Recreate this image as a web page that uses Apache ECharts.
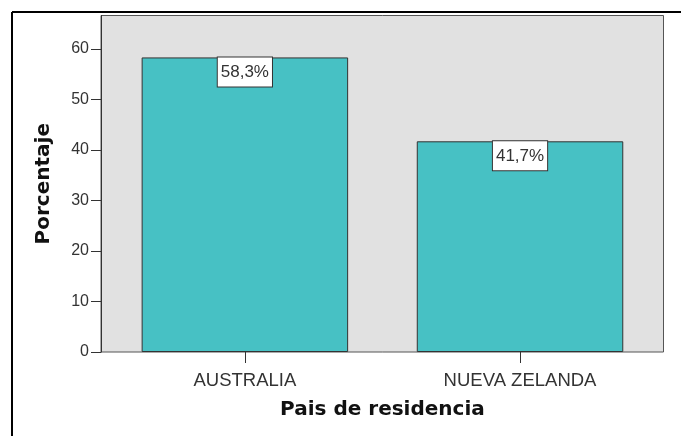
<!DOCTYPE html>
<html>
<head>
<meta charset="utf-8">
<script src="https://cdn.jsdelivr.net/npm/echarts@6/dist/echarts.min.js"></script>
<style>
html,body{margin:0;padding:0;background:#fff;}
#chart{width:681px;height:436px;}
</style>
</head>
<body>
<div id="chart"></div>
<script>
const categories = ['AUSTRALIA', 'NUEVA ZELANDA'];
const percentages = [58.3, 41.7];
const yTickValues = [0, 10, 20, 30, 40, 50, 60];
const xAxisTitle = 'Pais de residencia';
const yAxisTitle = 'Porcentaje';

const chart = echarts.init(document.getElementById('chart'), null, {renderer: 'canvas'});
const yMax = 66.6;
const option = {
  animation: false,
  backgroundColor: '#ffffff',
  graphic: [
    {type: 'line', shape: {x1: 12, y1: 12, x2: 681, y2: 12}, style: {stroke: '#000', lineWidth: 2}},
    {type: 'line', shape: {x1: 12, y1: 12, x2: 12, y2: 436}, style: {stroke: '#000', lineWidth: 2}}
  ],
  grid: [
    {left: 101, top: 15.5, width: 562.5, height: 336.5, show: true, backgroundColor: '#e1e1e1', borderColor: '#555', borderWidth: 1, z: 0},
    {left: 107.3, top: 15.5, width: 550.3, height: 336.5}
  ],
  xAxis: [
    {gridIndex: 0, type: 'value', show: false, min: 0, max: 1},
    {gridIndex: 1, type: 'category', data: categories, boundaryGap: true,
     axisLine: {show: false},
     axisTick: {show: true, alignWithLabel: true, length: 11, lineStyle: {color: '#333', width: 1}},
     axisLabel: {margin: 19, color: '#333', fontSize: 18.5, fontFamily: 'Liberation Sans, Arial, sans-serif'},
     name: xAxisTitle, nameLocation: 'middle', nameGap: 48,
     nameTextStyle: {fontSize: 20, fontWeight: 'bold', color: '#111', fontFamily: 'DejaVu Sans, sans-serif'}
    }
  ],
  yAxis: [
    {gridIndex: 0, type: 'value', min: 0, max: yMax, interval: 10,
     splitLine: {show: false},
     axisLine: {show: true, lineStyle: {color: '#333', width: 1}},
     axisTick: {show: true, length: 10, customValues: yTickValues, lineStyle: {color: '#333', width: 1}},
     axisLabel: {margin: 12, color: '#333', fontSize: 16, customValues: yTickValues, fontFamily: 'Liberation Sans, Arial, sans-serif'},
     name: yAxisTitle, nameLocation: 'middle', nameGap: 47,
     nameTextStyle: {fontSize: 20, fontWeight: 'bold', color: '#111', fontFamily: 'DejaVu Sans, sans-serif'}
    },
    {gridIndex: 1, type: 'value', min: 0, max: yMax, show: false, splitLine: {show: false}}
  ],
  series: [{
    type: 'bar',
    xAxisIndex: 1, yAxisIndex: 1,
    data: percentages,
    barWidth: 206.5,
    itemStyle: {color: '#47c1c4', borderColor: '#333', borderWidth: 1},
    label: {
      show: true, position: 'insideTop', distance: 0,
      formatter: p => p.value.toFixed(1).replace('.', ',') + '%',
      backgroundColor: '#fff', borderColor: '#333', borderWidth: 1,
      padding: [5, 3, 4, 3], color: '#333', fontSize: 17, lineHeight: 20,
      fontFamily: 'Liberation Sans, Arial, sans-serif'
    }
  }]
};
chart.setOption(option);
</script>
</body>
</html>
